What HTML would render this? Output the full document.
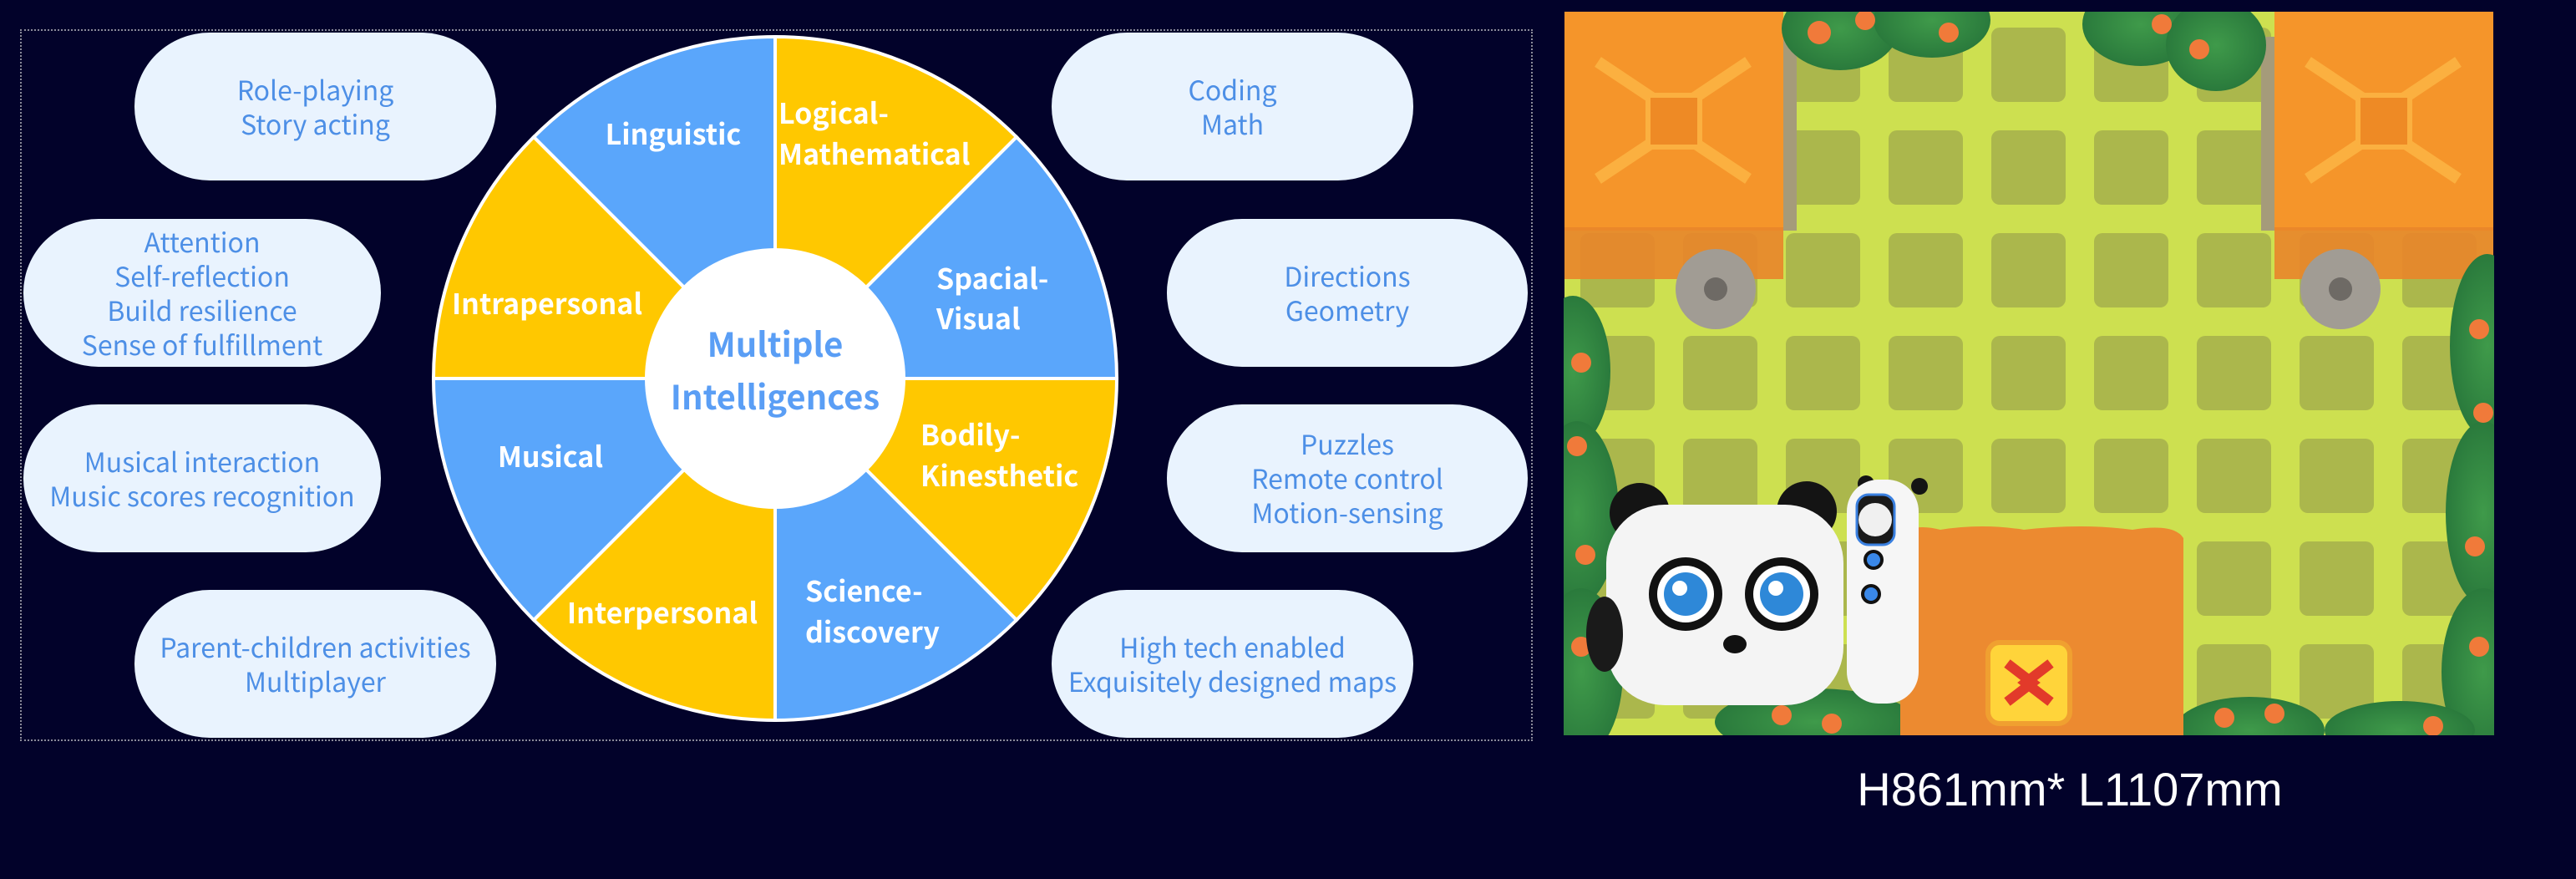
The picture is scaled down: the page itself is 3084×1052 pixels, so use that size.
<!DOCTYPE html>
<html><head><meta charset="utf-8"><style>
html,body{margin:0;padding:0;background:#02022a;}
body{width:3084px;height:1052px;position:relative;overflow:hidden;}
.frame{position:absolute;left:24px;top:35px;width:1807px;height:848px;border:2px dotted #8a8a9a;}
.pill{position:absolute;background:#e9f3fe;border-radius:90px/88px;color:#4d8fe6;font-family:"Noto Sans CJK SC","Liberation Sans",sans-serif;font-size:32px;line-height:41px;text-align:center;display:flex;flex-direction:column;justify-content:center;align-items:center;}
.cap{position:absolute;left:2200px;top:912px;width:556px;text-align:center;color:#fff;font-family:"Liberation Sans",sans-serif;font-size:56px;}
</style></head><body>
<div class="frame"></div>

<div class="pill" style="left:161px;top:39px;width:433px;height:177px;">Role-playing<br>Story acting</div>
<div class="pill" style="left:28px;top:262px;width:428px;height:177px;">Attention<br>Self-reflection<br>Build resilience<br>Sense of fulfillment</div>
<div class="pill" style="left:28px;top:484px;width:428px;height:177px;">Musical interaction<br>Music scores recognition</div>
<div class="pill" style="left:161px;top:706px;width:433px;height:177px;">Parent-children activities<br>Multiplayer</div>
<div class="pill" style="left:1259px;top:39px;width:433px;height:177px;">Coding<br>Math</div>
<div class="pill" style="left:1397px;top:262px;width:432px;height:177px;">Directions<br>Geometry</div>
<div class="pill" style="left:1397px;top:484px;width:432px;height:177px;">Puzzles<br>Remote control<br>Motion-sensing</div>
<div class="pill" style="left:1259px;top:706px;width:433px;height:177px;">High tech enabled<br>Exquisitely designed maps</div>

<svg style="position:absolute;left:0;top:0" width="1860" height="900" viewBox="0 0 1860 900">
<g stroke="#fff" stroke-width="4">
<path d="M928 453 L639 164 A409 409 0 0 1 928 44 Z" fill="#5aa6fb"/>
<path d="M928 453 L928 44 A409 409 0 0 1 1217 164 Z" fill="#ffc800"/>
<path d="M928 453 L1217 164 A409 409 0 0 1 1337 453 Z" fill="#5aa6fb"/>
<path d="M928 453 L1337 453 A409 409 0 0 1 1217 742 Z" fill="#ffc800"/>
<path d="M928 453 L1217 742 A409 409 0 0 1 928 862 Z" fill="#5aa6fb"/>
<path d="M928 453 L928 862 A409 409 0 0 1 639 742 Z" fill="#ffc800"/>
<path d="M928 453 L639 742 A409 409 0 0 1 519 453 Z" fill="#5aa6fb"/>
<path d="M928 453 L519 453 A409 409 0 0 1 639 164 Z" fill="#ffc800"/>
</g>
<circle cx="928" cy="453" r="156" fill="#fff"/>
<g font-family="Noto Sans CJK SC, Liberation Sans, sans-serif" font-weight="bold" font-size="34" fill="#fff">
<text x="806" y="173" text-anchor="middle">Linguistic</text>
<text x="932" y="148">Logical-</text>
<text x="932" y="197">Mathematical</text>
<text x="1121" y="346">Spacial-</text>
<text x="1121" y="394">Visual</text>
<text x="655" y="376" text-anchor="middle">Intrapersonal</text>
<text x="1102" y="533">Bodily-</text>
<text x="1102" y="582">Kinesthetic</text>
<text x="659" y="559" text-anchor="middle">Musical</text>
<text x="793" y="746" text-anchor="middle">Interpersonal</text>
<text x="964" y="720">Science-</text>
<text x="964" y="769">discovery</text>
</g>
<g font-family="Noto Sans CJK SC, Liberation Sans, sans-serif" font-weight="bold" font-size="40" fill="#5a9ef5" text-anchor="middle">
<text x="928" y="427">Multiple</text>
<text x="928" y="490">Intelligences</text>
</g>
</svg>

<svg style="position:absolute;left:1872px;top:14px" width="1114" height="866" viewBox="0 0 1112 866">
<defs>
<pattern id="g" patternUnits="userSpaceOnUse" x="19" y="19" width="123" height="123">
<rect width="123" height="123" fill="#cde050"/>
<rect x="0" y="0" width="89" height="89" rx="10" fill="#abb74c"/>
</pattern>
<radialGradient id="bush" cx="50%" cy="50%" r="50%"><stop offset="0" stop-color="#3f9a4a"/><stop offset="1" stop-color="#2a7a3c"/></radialGradient>
</defs>
<rect width="1112" height="866" fill="url(#g)"/>
<rect x="0" y="0" width="262" height="262" fill="#f5952a"/>
<rect x="0" y="258" width="262" height="62" fill="#e9852a" opacity=".9"/>
<rect x="262" y="30" width="16" height="232" fill="#a59b7a"/>
<path d="M40 60 L130 120 L220 60 M40 200 L130 140 L220 200" stroke="#fbb040" stroke-width="14" fill="none"/>
<rect x="100" y="100" width="62" height="62" fill="#ee8a25" stroke="#fbb040" stroke-width="6"/>
<circle cx="181" cy="332" r="48" fill="#a19c94"/><circle cx="181" cy="332" r="14" fill="#6e6a65"/>
<rect x="850" y="0" width="262" height="262" fill="#f5952a"/>
<rect x="850" y="258" width="262" height="62" fill="#e9852a" opacity=".9"/>
<rect x="834" y="30" width="16" height="232" fill="#a59b7a"/>
<path d="M890 60 L980 120 L1070 60 M890 200 L980 140 L1070 200" stroke="#fbb040" stroke-width="14" fill="none"/>
<rect x="950" y="100" width="62" height="62" fill="#ee8a25" stroke="#fbb040" stroke-width="6"/>
<circle cx="929" cy="332" r="48" fill="#a19c94"/><circle cx="929" cy="332" r="14" fill="#6e6a65"/>
<g fill="url(#bush)">
<ellipse cx="330" cy="20" rx="70" ry="50"/><ellipse cx="440" cy="10" rx="70" ry="45"/>
<ellipse cx="690" cy="15" rx="70" ry="50"/><ellipse cx="780" cy="40" rx="60" ry="55"/>
<ellipse cx="10" cy="430" rx="45" ry="90"/><ellipse cx="15" cy="600" rx="50" ry="110"/><ellipse cx="20" cy="790" rx="50" ry="100"/>
<ellipse cx="1105" cy="400" rx="45" ry="110"/><ellipse cx="1100" cy="600" rx="45" ry="110"/><ellipse cx="1100" cy="790" rx="50" ry="100"/>
<ellipse cx="820" cy="860" rx="90" ry="40"/><ellipse cx="1000" cy="860" rx="90" ry="35"/>
<ellipse cx="300" cy="850" rx="120" ry="40"/>
</g>
<g fill="#f07a3a">
<circle cx="305" cy="25" r="14"/><circle cx="360" cy="10" r="12"/><circle cx="460" cy="25" r="12"/><circle cx="715" cy="15" r="12"/><circle cx="760" cy="45" r="12"/>
<circle cx="20" cy="420" r="12"/><circle cx="15" cy="520" r="12"/><circle cx="25" cy="650" r="12"/><circle cx="20" cy="760" r="12"/>
<circle cx="1095" cy="380" r="12"/><circle cx="1100" cy="480" r="12"/><circle cx="1090" cy="640" r="12"/><circle cx="1095" cy="760" r="12"/>
<circle cx="790" cy="845" r="12"/><circle cx="850" cy="840" r="12"/><circle cx="1040" cy="855" r="12"/><circle cx="260" cy="842" r="12"/><circle cx="320" cy="852" r="12"/>
</g>
<path d="M402 625 Q420 612 450 620 Q500 612 550 620 Q620 612 680 620 Q730 612 741 630 L741 866 L402 866 Z" fill="#ec8a30"/>
<rect x="507" y="755" width="98" height="97" rx="14" fill="#ffd43a" stroke="#f0a030" stroke-width="6"/>
<path d="M530 780 L560 803 L530 826 M582 780 L552 803 L582 826" stroke="#e23a2a" stroke-width="12" fill="none"/>
<circle cx="90" cy="600" r="36" fill="#141414"/><circle cx="290" cy="598" r="36" fill="#141414"/>
<rect x="50" y="590" width="284" height="240" rx="70" fill="#f4f4f4"/>
<ellipse cx="48" cy="745" rx="22" ry="45" fill="#1a1a1a"/>
<circle cx="145" cy="697" r="44" fill="#111"/><circle cx="145" cy="697" r="34" fill="#fff"/><circle cx="145" cy="697" r="26" fill="#2e88d8"/><circle cx="138" cy="690" r="9" fill="#fff"/>
<circle cx="260" cy="697" r="44" fill="#111"/><circle cx="260" cy="697" r="34" fill="#fff"/><circle cx="260" cy="697" r="26" fill="#2e88d8"/><circle cx="253" cy="690" r="9" fill="#fff"/>
<ellipse cx="204" cy="757" rx="14" ry="11" fill="#111"/>
<circle cx="361" cy="565" r="10" fill="#141414"/><circle cx="425" cy="568" r="10" fill="#141414"/>
<rect x="338" y="560" width="86" height="268" rx="38" fill="#f6f6f6"/>
<rect x="350" y="578" width="45" height="60" rx="14" fill="#1a1a1a" stroke="#3a80e0" stroke-width="3"/><circle cx="372" cy="608" r="20" fill="#f0f0f0"/>
<circle cx="370" cy="656" r="10" fill="#3a88e8" stroke="#111" stroke-width="4"/><circle cx="367" cy="697" r="10" fill="#3a88e8" stroke="#111" stroke-width="4"/>
</svg>

<div class="cap">H861mm* L1107mm</div>
</body></html>
